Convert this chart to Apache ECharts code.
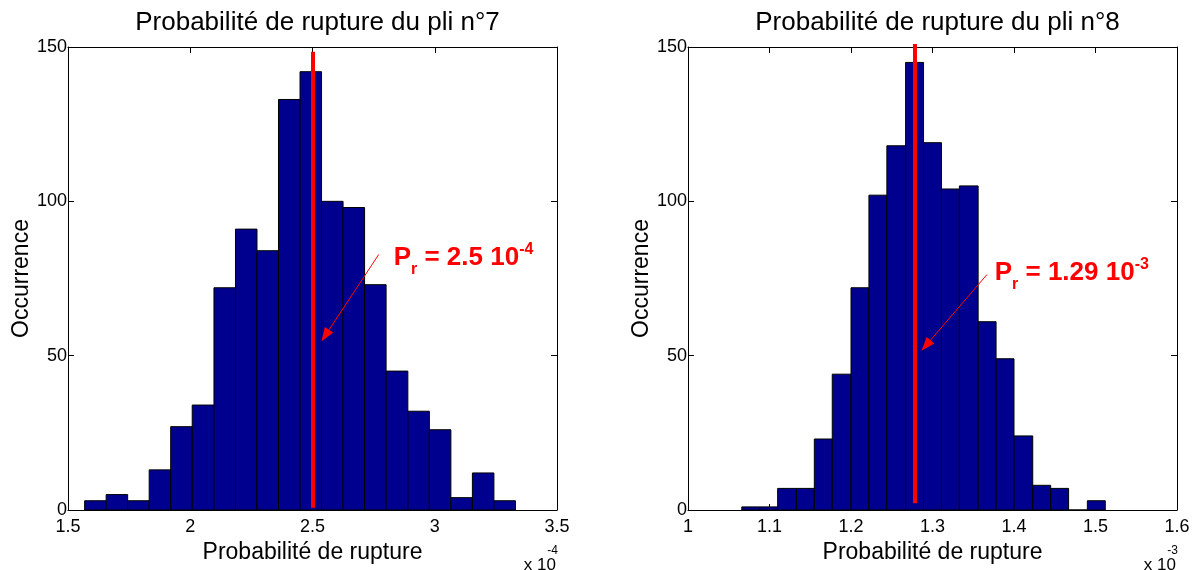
<!DOCTYPE html>
<html><head><meta charset="utf-8">
<script src="https://cdn.jsdelivr.net/npm/echarts@6/dist/echarts.min.js"></script>
<style>html,body{margin:0;padding:0;background:#fff}#c{width:1203px;height:570px}</style>
</head><body><div id="c"></div>
<script>
// ---- data ----
const titles = ['Probabilité de rupture du pli n°7', 'Probabilité de rupture du pli n°8'];
const xAxisName = 'Probabilité de rupture';
const yAxisName = 'Occurrence';
const xTicks7 = [1.5, 2, 2.5, 3, 3.5];
const xTicks8 = [1, 1.1, 1.2, 1.3, 1.4, 1.5, 1.6];
const yTicks = [0, 50, 100, 150];
const scaleExp7 = '-4';
const scaleExp8 = '-3';

const binEdges7 = [1.568, 1.656, 1.744, 1.832, 1.920, 2.008, 2.097, 2.185, 2.273, 2.361, 2.449,
                   2.537, 2.625, 2.713, 2.801, 2.890, 2.978, 3.066, 3.154, 3.242, 3.330];
const counts7 = [3, 5, 3, 13, 27, 34, 72, 91, 84, 133, 142, 100, 98, 73, 45, 32, 26, 4, 12, 3];

const binEdges8 = [1.066, 1.088, 1.110, 1.133, 1.155, 1.177, 1.200, 1.222, 1.244, 1.267, 1.289,
                   1.311, 1.333, 1.356, 1.378, 1.400, 1.423, 1.445, 1.467, 1.490, 1.512];
const counts8 = [1, 1, 7, 7, 23, 44, 72, 102, 118, 145, 119, 104, 105, 61, 49, 24, 8, 7, 0, 3];

const prX7 = 2.502, prSpan7 = [0.7, 148.5];
const prX8 = 1.2785, prSpan8 = [2.2, 151];
const arrow7 = [[2.771, 82.8], [2.552, 56.5]];
const arrow8 = [[1.3669, 76.3], [1.2920, 53.3]];
const labelAnchor7 = [2.832, 81.6];
const labelAnchor8 = [1.3763, 76.7];
const labelValue7 = ' = 2.5 10', labelExp7 = '-4';
const labelValue8 = ' = 1.29 10', labelExp8 = '-3';

// ---- layout ----
const FONT = 'Liberation Sans, Arial, Helvetica, sans-serif';
const G = [{left: 68, top: 47, width: 489, height: 463}, {left: 688, top: 47, width: 489, height: 463}];
const chart = echarts.init(document.getElementById('c'), null, {renderer: 'canvas'});

function step(t) { return +(t[1] - t[0]).toFixed(6); }
function xAxes(gi, ticks) {
  const base = {
    type: 'value', gridIndex: gi, min: ticks[0], max: ticks[ticks.length - 1], interval: step(ticks),
    splitLine: {show: false},
    axisLine: {show: true, onZero: false, lineStyle: {color: '#000', width: 1}},
    axisTick: {show: true, inside: true, length: 6, lineStyle: {color: '#000'}}
  };
  return [
    Object.assign({}, base, {position: 'bottom',
      axisLabel: {show: true, color: '#000', fontSize: 18, fontFamily: FONT, margin: 8},
      name: xAxisName, nameLocation: 'middle', nameGap: 30,
      nameTextStyle: {color: '#000', fontSize: 23, fontFamily: FONT}}),
    Object.assign({}, base, {position: 'top', axisLabel: {show: false}})
  ];
}
function yAxes(gi) {
  const base = {
    type: 'value', gridIndex: gi, min: yTicks[0], max: yTicks[yTicks.length - 1], interval: step(yTicks),
    splitLine: {show: false},
    axisLine: {show: true, onZero: false, lineStyle: {color: '#000', width: 1}},
    axisTick: {show: true, inside: true, length: 6, lineStyle: {color: '#000'}}
  };
  return [
    Object.assign({}, base, {position: 'left',
      axisLabel: {show: true, color: '#000', fontSize: 18, fontFamily: FONT, margin: 1, padding: [10, 0, 0, 0]},
      name: yAxisName, nameLocation: 'middle', nameGap: 34,
      nameTextStyle: {color: '#000', fontSize: 23, fontFamily: FONT}}),
    Object.assign({}, base, {position: 'right', axisLabel: {show: false}})
  ];
}
function histData(edges, counts) {
  return counts.map((c, i) => [edges[i], edges[i + 1], c]);
}
function histSeries(xi, yi, edges, counts) {
  return {
    type: 'custom', xAxisIndex: xi, yAxisIndex: yi,
    data: histData(edges, counts),
    encode: {x: [0, 1], y: 2},
    renderItem: function (params, api) {
      const p0 = api.coord([api.value(0), api.value(2)]);
      const p1 = api.coord([api.value(1), 0]);
      return {type: 'rect', shape: {x: p0[0], y: p0[1], width: p1[0] - p0[0], height: p1[1] - p0[1]},
        style: {fill: '#00008F', stroke: '#000', lineWidth: 1}};
    }, z: 2
  };
}
function prSeries(xi, yi, x, span, arrow) {
  return {
    type: 'line', xAxisIndex: xi, yAxisIndex: yi, symbol: 'none', clip: false, z: 5,
    data: [[x, span[0]], [x, span[1]]],
    lineStyle: {color: '#FF0000', width: 4},
    markLine: {
      silent: true, symbol: ['none', 'triangle'], symbolSize: [10, 14],
      label: {show: false},
      lineStyle: {color: '#FF0000', width: 1, type: 'solid'},
      data: [[{coord: arrow[0]}, {coord: arrow[1]}]]
    }
  };
}

chart.setOption({
  animation: false,
  textStyle: {fontFamily: FONT},
  title: [
    {text: titles[0], left: G[0].left + G[0].width / 2, textAlign: 'center', top: 5,
     textStyle: {fontSize: 26, fontWeight: 'normal', color: '#000', fontFamily: FONT}},
    {text: titles[1], left: G[1].left + G[1].width / 2, textAlign: 'center', top: 5,
     textStyle: {fontSize: 26, fontWeight: 'normal', color: '#000', fontFamily: FONT}}
  ],
  grid: G,
  xAxis: [].concat(xAxes(0, xTicks7), xAxes(1, xTicks8)),
  yAxis: [].concat(yAxes(0), yAxes(1)),
  series: [
    histSeries(0, 0, binEdges7, counts7),
    histSeries(2, 2, binEdges8, counts8),
    prSeries(0, 0, prX7, prSpan7, arrow7),
    prSeries(2, 2, prX8, prSpan8, arrow8)
  ]
});

function annot(p, value, exp) {
  return {
    type: 'text', x: p[0], y: p[1], z: 100,
    style: {
      text: '{m|P}{s|r}{m|' + value + '}{p|' + exp + '}',
      textAlign: 'left', textVerticalAlign: 'middle', align: 'left', verticalAlign: 'middle',
      fill: '#FF0000',
      rich: {
        m: {fontSize: 26, fontWeight: 'bold', fontFamily: FONT, fill: '#FF0000', lineHeight: 50},
        s: {fontSize: 16, fontWeight: 'bold', fontFamily: FONT, fill: '#FF0000', lineHeight: 28, padding: [22, 0, 0, 0]},
        p: {fontSize: 16, fontWeight: 'bold', fontFamily: FONT, fill: '#FF0000', lineHeight: 33, padding: [0, 0, 17, 0]}
      }
    }
  };
}
function scaleText(gi, exp) {
  const r = G[gi].left + G[gi].width, b = G[gi].top + G[gi].height;
  return [
    {type: 'text', x: r - 1, y: b + 55, style: {text: 'x 10', fill: '#000', font: '17px ' + FONT,
      textAlign: 'right', textVerticalAlign: 'middle', align: 'right', verticalAlign: 'middle'}},
    {type: 'text', x: r + 1, y: b + 41, style: {text: exp, fill: '#000', font: '12px ' + FONT,
      textAlign: 'right', textVerticalAlign: 'middle', align: 'right', verticalAlign: 'middle'}}
  ];
}
const a7 = chart.convertToPixel({xAxisIndex: 0, yAxisIndex: 0}, labelAnchor7);
const a8 = chart.convertToPixel({xAxisIndex: 2, yAxisIndex: 2}, labelAnchor8);
chart.setOption({
  graphic: [annot(a7, labelValue7, labelExp7), annot(a8, labelValue8, labelExp8)]
    .concat(scaleText(0, scaleExp7), scaleText(1, scaleExp8))
});
</script>
</body></html>
